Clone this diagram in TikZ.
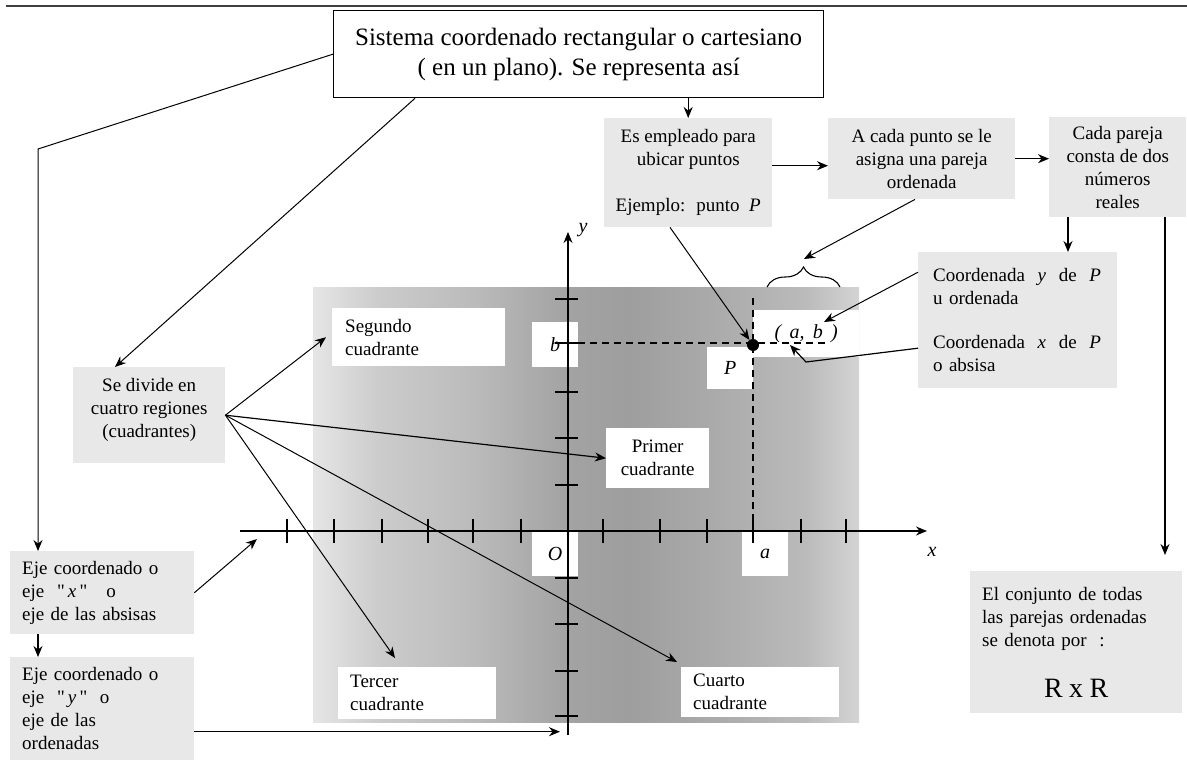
\documentclass[tikz,border=0pt]{standalone}
\usepackage{fontspec}
\setmainfont{Liberation Serif}[Ligatures=TeXOff]
\usetikzlibrary{calc}
\usetikzlibrary{arrows.meta}
\usetikzlibrary{decorations.pathreplacing}
\usepackage{xcolor}
\definecolor{boxgray}{RGB}{232,232,232}
\pgfdeclarehorizontalshading{planeshade}{100bp}{color(0bp)=(black!10); color(25bp)=(black!10); color(31bp)=(black!20); color(40bp)=(black!27); color(48bp)=(black!36); color(54bp)=(black!38); color(62bp)=(black!33); color(70bp)=(black!27); color(75bp)=(black!17); color(100bp)=(black!17)}
\tikzset{
 gbox/.style={fill=boxgray, anchor=north west, inner sep=0pt, font=\fontsize{19}{23}\selectfont},
 wbox/.style={fill=white, anchor=north west, inner sep=0pt, font=\fontsize{19}{23}\selectfont},
 lbl/.style={fill=white, anchor=north west, inner sep=0pt, font=\fontsize{20}{23}\selectfont\itshape},
 conn/.style={->, line width=1.2pt},
 axtick/.style={line width=1.4pt},
 guide/.style={line width=1.4pt, dash pattern=on 7pt off 5pt}
}

\begin{document}
\begin{tikzpicture}[x=1pt, y=-1pt, >={Stealth[length=11pt,width=9pt]}]
\useasboundingbox (0,0) rectangle (1187,760);
\draw[line width=2pt, black!75] (6,6)--(1187,6);
\shade[shading=planeshade] (313,287) rectangle (859,722);

\node[draw, line width=1.3pt, fill=white, anchor=north west, inner sep=0pt, minimum width=490pt, minimum height=87pt, align=center, font=\fontsize{25}{30}\selectfont] (tit) at (333,10) {Sistema coordenado rectangular o cartesiano\\( en un plano). Se representa así};
\node[gbox, minimum width=168pt, minimum height=109pt, align=center] (emp) at (604,118) {Es empleado para\\ubicar puntos\\[23pt]Ejemplo: \ punto \ \textit{P}};
\node[gbox, minimum width=187pt, minimum height=81pt, align=center] (aca) at (828,118) {A cada punto se le\\asigna una pareja\\ordenada};
\node[gbox, minimum width=137pt, minimum height=100pt, align=center] (par) at (1049,117) {Cada pareja\\consta de dos\\números\\reales};
\node[gbox, inner xsep=15pt, text width=169pt, minimum height=136pt, align=left] (coo) at (918,252) {Coordenada \ \textit{y} \ de \ \textit{P}\\u ordenada\\[21pt]Coordenada \ \textit{x} \ de \ \textit{P}\\o absisa};
\node[gbox, inner xsep=12pt, text width=188pt, minimum height=142pt, align=left] (con) at (970,571) {El conjunto de todas\\las parejas ordenadas\\se denota por \ :\\[28pt]\makebox[188pt]{\fontsize{28}{30}\selectfont R x R}};
\node[gbox, minimum width=152pt, minimum height=96pt, align=center] (div) at (73,367) {Se divide en\\cuatro regiones\\(cuadrantes)\\[-9pt]\mbox{}};
\node[gbox, inner xsep=12pt, text width=160pt, minimum height=83pt, align=left] (ejex) at (10,551) {Eje coordenado o\\eje \ "\,\textit{x}\," \ \ o\\eje de las absisas};
\node[gbox, inner xsep=12pt, text width=160pt, minimum height=103pt, align=left] (ejey) at (10,657) {Eje coordenado o\\eje \ "\,\textit{y}\," \ o\\eje de las\\ordenadas};

\node[wbox, inner xsep=13pt, text width=147pt, minimum height=58pt, align=left] (seg) at (332,308) {Segundo\\cuadrante};
\node[wbox, minimum width=103pt, minimum height=60pt, align=center] (pri) at (606,428) {Primer\\cuadrante};
\node[wbox, inner xsep=12pt, text width=134pt, minimum height=52pt, align=left] (ter) at (338,667) {Tercer\\cuadrante};
\node[wbox, inner xsep=12pt, text width=134pt, minimum height=50pt, align=left] (cua) at (681,667) {Cuarto\\cuadrante};
\node[lbl, minimum width=46pt, minimum height=45pt] (lb) at (532,322) {b\hspace{12pt}};
\node[lbl, minimum width=46pt, minimum height=44pt] (lo) at (532,532) {O\hspace{6pt}};
\node[lbl, minimum width=46pt, minimum height=44pt] (la) at (742,532) {a\hspace{14pt}};
\node[lbl, minimum width=46pt, minimum height=42pt] (lp) at (707,347) {P};
\node[lbl, minimum width=106pt, minimum height=47pt] (ab) at (753,310) {(\,\ a,\ \,b\,\ )};

\coordinate (xl) at (240,531);
\coordinate (xr) at (927,531);
\coordinate (yb) at (568,735);
\coordinate (yt) at (568,232);
\draw[line width=1.4pt, ->] (xl)--(xr);
\draw[line width=1.4pt, ->] (yb)--(yt);
\node[font=\fontsize{20}{23}\selectfont\itshape] (lx) at (932,552) {x};
\node[font=\fontsize{20}{23}\selectfont\itshape] (ly) at (583,230) {y};
\foreach \x in {287,334,382,428,473,521,603,660,707,753,801,846}
 \draw[axtick] (\x,519)--(\x,543);
\foreach \y in {299,343,392,438,485,578,624,671,716}
 \draw[axtick] (555,\y)--(578,\y);
\draw[guide] (578,343)--(825,343);
\draw[guide] (753,298)--(753,531);
\node[circle, fill, inner sep=0pt, minimum size=12pt] (pp) at (753,345) {};

\coordinate (bl) at (767,287);
\coordinate (br) at (840,287);
\coordinate (bt) at (804,259);
\draw[line width=1.1pt, decorate, decoration={brace, amplitude=20pt}] (bl)--(br);
\coordinate (tb) at (824,322);
\coordinate (ce) at (806,362);
\coordinate (ta) at (790,345);
\coordinate (c1) at (38,149);

\draw[conn] (tit.south -| emp.north)--(emp.north);
\draw[conn, line width=1pt] (tit.west)--(c1)--(c1 |- ejex.north);
\draw[conn, line width=1pt] ([xshift=82pt]tit.south west)--([xshift=42pt]div.north west);
\draw[conn] ([yshift=7pt]emp.east)--([yshift=7pt]emp.east -| aca.west);
\draw[conn] (aca.east)--(aca.east -| par.west);
\draw[conn] ([xshift=19pt]par.south west)--([xshift=19pt]par.south west |- coo.north);
\draw[conn, shorten >=16pt] ([xshift=116pt]par.south west)--([xshift=116pt]par.south west |- con.north);
\draw[conn, line width=1pt] ([xshift=87pt]aca.south west)--(bt);
\draw[conn, line width=1pt] ([xshift=66pt]emp.south west)--(pp);
\draw[conn, line width=1pt] ([yshift=48pt]coo.west)--(tb);
\draw[conn] ([yshift=-28pt]coo.west)--(ce)--(ta);
\draw[conn, line width=1pt] (div.east)--([xshift=-6pt]seg.west);
\draw[conn] (div.east)--(pri.west);
\draw[conn, line width=1pt] (div.east)--([shift={(57pt,9pt)}]ter.north west);
\draw[conn, line width=1pt] (div.east)--([shift={(-4pt,5pt)}]cua.north west);
\draw[conn, line width=1pt] (ejex.east)--([shift={(17pt,-8pt)}]xl);
\draw[conn] ([xshift=28pt]ejex.south west)--([xshift=28pt]ejey.north west);
\draw[conn, shorten >=8pt] ([yshift=-23pt]ejey.east)--([yshift=-23pt]ejey.east -| yb);
\end{tikzpicture}
\end{document}
